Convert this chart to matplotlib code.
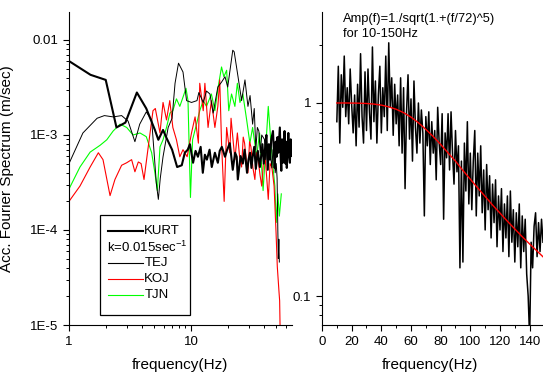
import matplotlib
matplotlib.use("Agg")
import matplotlib.pyplot as plt
from matplotlib.ticker import LogLocator, NullFormatter, MultipleLocator, FixedLocator
from matplotlib.patches import Rectangle

plt.rcParams['font.family'] = ['Liberation Sans', 'DejaVu Sans']

# ---------------- data: left panel (frequency Hz, spectrum m/sec) ----------------
kurt = [(1.0, 6.0e-3), (1.5, 4.3e-3), (2.0, 3.8e-3), (2.45, 1.2e-3), (2.9, 1.35e-3),
        (3.6, 2.8e-3), (4.3, 1.9e-3), (5.06, 1.13e-3), (5.4, 8.9e-4), (5.9, 1.13e-3),
        (6.3, 9.3e-4), (7.0, 7.0e-4), (7.7, 4.6e-4), (8.4, 4.8e-4), (8.9, 6.5e-4),
        (9.4, 7.0e-4), (9.8, 8.0e-4), (10.4, 5.1e-4), (10.9, 6.8e-4), (11.4, 5.9e-4),
        (12.0, 7.5e-4), (12.5, 4.0e-4), (13.0, 6.2e-4), (13.5, 5.5e-4), (14.2, 7.0e-4),
        (14.8, 4.6e-4), (15.7, 6.5e-4), (16.6, 5.1e-4), (17.2, 6.8e-4), (17.9, 7.5e-4),
        (19.0, 5.9e-4), (19.8, 7.0e-4), (20.8, 8.2e-4), (22.0, 4.3e-4), (23.0, 6.5e-4),
        (23.7, 5.9e-4), (24.2, 3.4e-4), (25.5, 6.0e-4), (26.6, 5.0e-4), (27.5, 7.0e-4),
        (28.8, 4.0e-4), (29.6, 5.5e-4), (30.5, 6.5e-4), (31.3, 4.5e-4), (32.0, 5.9e-4),
        (33.0, 7.5e-4), (34.0, 4.4e-4), (35.3, 6.8e-4), (36.7, 4.6e-4), (37.6, 6.0e-4),
        (38.5, 8.0e-4), (39.5, 5.0e-4), (40.4, 7.0e-4), (41.5, 1.0e-3), (42.6, 4.3e-4),
        (43.5, 8.0e-4), (44.5, 5.5e-4), (45.5, 9.0e-4), (47.0, 1.1e-3), (48.0, 6.0e-4),
        (48.5, 4.5e-4), (49.5, 8.5e-4), (50.4, 5.9e-4), (51.2, 9.5e-4), (52.0, 6.5e-4),
        (53.5, 1.2e-3), (54.3, 6.0e-4), (55.0, 4.2e-4), (55.8, 9.0e-4), (56.6, 5.1e-4),
        (57.5, 7.5e-4), (58.5, 1.1e-3), (59.5, 5.0e-4), (60.2, 8.5e-4), (61.0, 4.5e-4),
        (62.0, 7.0e-4), (62.8, 1.05e-3), (63.8, 6.0e-4), (64.7, 5.1e-4), (65.6, 9.0e-4),
        (66.5, 6.0e-4), (67.2, 8.0e-4)]

tej = [(1.0, 5.0e-4), (1.3, 1.05e-3), (1.7, 1.5e-3), (1.95, 1.6e-3), (2.3, 1.55e-3),
       (2.7, 1.6e-3), (3.05, 1.4e-3), (3.47, 8.5e-4), (3.8, 1.3e-3), (4.3, 1.75e-3),
       (4.76, 1.44e-3), (5.2, 3.1e-4), (5.4, 2.1e-4), (5.6, 3.5e-4), (5.9, 5.9e-4),
       (6.5, 1.2e-3), (7.0, 1.5e-3), (7.4, 3.5e-3), (7.9, 5.7e-3), (8.6, 4.6e-3),
       (9.2, 2.3e-3), (10.1, 2.2e-3), (11.2, 2.3e-3), (11.6, 2.8e-3), (12.6, 2.2e-3),
       (13.4, 2.9e-3), (14.3, 2.7e-3), (15.2, 1.7e-3), (16.6, 3.2e-3), (17.8, 3.6e-3),
       (19.0, 4.1e-3), (20.0, 3.2e-3), (22.0, 7.8e-3), (22.6, 7.5e-3), (24.3, 4.1e-3),
       (26.0, 2.3e-3), (27.7, 3.8e-3), (29.3, 2.0e-3), (30.5, 2.6e-3), (32.0, 1.3e-3),
       (33.0, 1.9e-3), (34.0, 7.0e-4), (35.0, 1.2e-3), (36.0, 1.1e-3), (37.0, 6.5e-4),
       (38.0, 1.0e-3), (40.0, 9.0e-4), (41.0, 5.5e-4), (42.0, 8.0e-4), (43.0, 5.0e-4),
       (44.0, 8.0e-4), (45.0, 6.0e-4), (46.0, 4.5e-4), (47.0, 7.0e-4), (48.0, 6.0e-4),
       (49.0, 4.0e-4), (50.0, 5.0e-4), (50.8, 3.5e-4), (51.5, 1.0e-4), (52.0, 5.0e-5),
       (52.5, 8.0e-5), (53.0, 4.6e-5)]

koj = [(1.0, 2.0e-4), (1.23, 2.9e-4), (1.49, 4.6e-4), (1.74, 6.5e-4), (1.9, 5.5e-4),
       (2.17, 2.3e-4), (2.38, 3.4e-4), (2.7, 4.8e-4), (2.97, 5.1e-4), (3.26, 5.5e-4),
       (3.47, 4.1e-4), (3.7, 5.2e-4), (3.9, 5.0e-4), (4.12, 3.4e-4), (4.45, 7.3e-4),
       (4.88, 1.8e-3), (5.1, 1.9e-3), (5.57, 1.05e-3), (5.9, 2.2e-3), (6.3, 1.44e-3),
       (6.7, 2.3e-3), (7.1, 1.2e-3), (7.6, 8.9e-4), (8.1, 5.9e-4), (8.6, 7.0e-4),
       (9.3, 5.9e-4), (10.1, 1.05e-3), (10.8, 1.55e-3), (11.5, 8.2e-4), (11.8, 3.5e-3),
       (12.6, 1.8e-3), (13.0, 3.5e-3), (13.8, 1.2e-3), (14.7, 2.3e-3), (15.7, 1.2e-3),
       (16.6, 2.0e-3), (17.2, 3.8e-3), (17.8, 8.2e-4), (18.7, 2.0e-4), (19.6, 1.2e-3),
       (20.8, 6.5e-4), (21.3, 1.5e-3), (22.1, 9.0e-4), (22.9, 5.5e-4), (24.0, 1.05e-3),
       (25.0, 6.0e-4), (26.0, 4.6e-4), (26.8, 9.5e-4), (27.5, 8.2e-4), (28.4, 5.5e-4),
       (29.3, 4.0e-4), (30.2, 8.5e-4), (31.0, 7.5e-4), (32.2, 4.5e-4), (33.4, 3.4e-4),
       (34.5, 6.5e-4), (35.5, 5.5e-4), (36.8, 3.8e-4), (38.0, 2.9e-4), (39.2, 5.0e-4),
       (40.5, 5.9e-4), (41.8, 3.5e-4), (43.0, 2.1e-4), (44.5, 5.0e-4), (46.0, 4.6e-4),
       (48.0, 2.9e-4), (49.8, 9.4e-5), (51.0, 4.1e-5), (52.7, 2.2e-5), (53.3, 1.8e-5),
       (53.7, 1.0e-5)]

tjn = [(1.0, 2.7e-4), (1.23, 4.6e-4), (1.49, 6.6e-4), (1.8, 7.8e-4), (2.04, 8.9e-4),
       (2.3, 1.1e-3), (2.62, 1.3e-3), (2.97, 1.2e-3), (3.35, 1.0e-3), (3.82, 1.05e-3),
       (4.3, 9.6e-4), (4.76, 6.5e-4), (5.06, 4.0e-4), (5.3, 2.6e-4), (5.57, 7.5e-4),
       (5.9, 8.9e-4), (6.3, 1.2e-3), (6.72, 1.7e-3), (7.1, 1.8e-3), (7.6, 2.4e-3),
       (8.1, 2.0e-3), (8.6, 2.5e-3), (9.1, 3.1e-3), (9.45, 2.3e-3), (9.9, 2.2e-4),
       (10.3, 8.9e-4), (11.1, 1.3e-3), (11.8, 1.8e-3), (12.6, 2.3e-3), (13.4, 2.0e-3),
       (14.7, 2.7e-3), (15.7, 1.8e-3), (16.7, 3.2e-3), (17.8, 5.2e-3), (18.6, 4.1e-3),
       (19.6, 4.8e-3), (20.4, 1.8e-3), (21.5, 2.7e-3), (22.9, 2.0e-3), (24.0, 3.5e-3),
       (25.2, 2.2e-3), (26.6, 2.7e-3), (28.6, 1.44e-3), (30.4, 8.2e-4), (32.0, 1.2e-3),
       (34.5, 5.9e-4), (36.5, 1.05e-3), (39.0, 2.6e-4), (41.0, 7.3e-4), (43.0, 2.0e-3),
       (45.0, 9.0e-4), (47.0, 4.6e-4), (48.7, 2.9e-4), (50.0, 1.2e-4), (51.5, 2.4e-4),
       (53.0, 1.4e-4), (55.0, 2.4e-4)]

# ---------------- data: right panel ----------------
ratio_freq = list(range(10, 150))
ratio_vals = [0.80, 1.55, 0.62, 1.40, 0.95, 1.75, 0.85, 1.20, 0.78, 1.50,
              0.98, 0.70, 1.10, 0.60, 1.25, 0.75, 1.80, 0.85, 0.62, 1.45,
              0.72, 1.50, 0.90, 0.65, 1.95, 0.80, 1.30, 0.62, 1.10, 1.55,
              0.70, 1.20, 0.85, 1.75, 0.72, 2.05, 0.95, 1.35, 0.68, 1.25,
              0.78, 1.10, 0.60, 1.35, 0.55, 1.20, 0.36, 0.90, 1.40, 0.65,
              1.05, 0.50, 1.30, 0.75, 0.55, 1.00, 0.62, 0.92, 0.70, 0.26,
              0.85, 0.60, 0.90, 0.48, 0.80, 0.55, 0.72, 0.40, 0.95, 0.62,
              0.48, 0.88, 0.25, 0.70, 0.52, 0.88, 0.45, 0.90, 0.55, 0.38,
              0.72, 0.44, 0.60, 0.14, 0.50, 0.15, 0.62, 0.35, 0.80, 0.30,
              0.55, 0.28, 0.50, 0.72, 0.26, 0.55, 0.33, 0.60, 0.27, 0.45,
              0.22, 0.48, 0.28, 0.42, 0.20, 0.38, 0.24, 0.40, 0.18, 0.33,
              0.22, 0.36, 0.17, 0.30, 0.20, 0.33, 0.16, 0.35, 0.19, 0.28,
              0.15, 0.27, 0.18, 0.30, 0.14, 0.26, 0.17, 0.25, 0.13, 0.10,
              0.06, 0.19, 0.14, 0.23, 0.27, 0.16, 0.24, 0.17, 0.25, 0.19]

fit_freq = [10, 15, 20, 25, 30, 35, 40, 45, 50, 55, 60, 65, 70, 75, 80, 85, 90,
            95, 100, 105, 110, 115, 120, 125, 130, 135, 140, 145, 150]
fit_vals = [1.0, 1.0, 0.999, 0.9975, 0.994, 0.987, 0.975, 0.955, 0.928, 0.891,
            0.845, 0.79, 0.73, 0.67, 0.61, 0.551, 0.50, 0.447, 0.403, 0.363,
            0.328, 0.296, 0.269, 0.244, 0.2225, 0.203, 0.186, 0.171, 0.157]

left_yticks = [1e-5, 1e-4, 1e-3, 1e-2]
left_yticklabels = ['1E-5', '1E-4', '1E-3', '0.01']
left_xticks = [1, 10]
left_xticklabels = ['1', '10']
right_yticks = [0.1, 1]
right_yticklabels = ['0.1', '1']

GREEN = '#00ff00'
RED = '#ff0000'

# ---------------- figure ----------------
W, H = 543, 373
fig = plt.figure(figsize=(W / 100, H / 100), dpi=100)
ax1 = fig.add_axes([69 / W, 48 / H, 223 / W, 313 / H])
ax2 = fig.add_axes([322 / W, 48 / H, 221 / W, 313 / H])


def split(pairs):
    return [p[0] for p in pairs], [p[1] for p in pairs]


for pairs, col, lw in [(tjn, GREEN, 0.8), (koj, RED, 0.8),
                       (tej, 'black', 0.7), (kurt, 'black', 1.5)]:
    f, v = split(pairs)
    ax1.plot(f, v, color=col, lw=lw)

ax1.set_xscale('log')
ax1.set_yscale('log')
ax1.set_xlim(1, 67.3)
ax1.set_ylim(1e-5, 0.0197)
ax1.set_yticks(left_yticks)
ax1.set_yticklabels(left_yticklabels)
ax1.set_xticks(left_xticks)
ax1.set_xticklabels(left_xticklabels)
ax1.xaxis.set_minor_locator(LogLocator(base=10, subs=range(2, 10)))
ax1.yaxis.set_minor_locator(LogLocator(base=10, subs=range(2, 10)))
ax1.xaxis.set_minor_formatter(NullFormatter())
ax1.yaxis.set_minor_formatter(NullFormatter())
ax1.set_xlabel('frequency(Hz)', fontsize=11)
ax1.set_ylabel('Acc. Fourier Spectrum (m/sec)', fontsize=11)
ax1.xaxis.set_label_coords(0.498, -0.105)
ax1.yaxis.set_label_coords(-0.245, 0.5)

# legend box (drawn manually)
ax1.add_patch(Rectangle((0.139, 0.032), 0.404, 0.319, transform=ax1.transAxes,
                        fill=False, lw=0.9, ec='black', zorder=5))
rows = [(0.300, 'KURT', 'black', 1.5), (0.198, 'TEJ', 'black', 0.8),
        (0.147, 'KOJ', RED, 0.8), (0.096, 'TJN', GREEN, 0.8)]
for y, lab, col, lw in rows:
    ax1.plot([0.175, 0.332], [y, y], transform=ax1.transAxes, color=col, lw=lw,
             zorder=6)
    ax1.text(0.338, y, lab, transform=ax1.transAxes, fontsize=9.5, va='center',
             ha='left', zorder=6)
ax1.text(0.172, 0.249, r'k=0.015sec$^{\mathregular{-1}}$', transform=ax1.transAxes,
         fontsize=9.5, va='center', ha='left', zorder=6)

# right panel
ax2.plot(ratio_freq, ratio_vals, color='black', lw=1.1)
ax2.plot(fit_freq, fit_vals, color=RED, lw=1.0)
ax2.set_yscale('log')
ax2.set_xlim(0, 149)
ax2.set_ylim(0.0708, 2.96)
ax2.set_yticks(right_yticks)
ax2.set_yticklabels(right_yticklabels)
ax2.yaxis.set_minor_locator(FixedLocator([0.08, 0.09, 0.2, 0.3, 0.4, 0.5, 0.6,
                                          0.7, 0.8, 0.9, 2, 3]))
ax2.yaxis.set_minor_formatter(NullFormatter())
ax2.xaxis.set_major_locator(MultipleLocator(20))
ax2.xaxis.set_minor_locator(MultipleLocator(10))
ax2.set_xlabel('frequency(Hz)', fontsize=11)
ax2.xaxis.set_label_coords(0.489, -0.105)
ax2.text(0.095, 0.978, 'Amp(f)=1./sqrt(1.+(f/72)^5)', transform=ax2.transAxes,
         fontsize=9.3, va='center', ha='left')
ax2.text(0.095, 0.93, 'for 10-150Hz', transform=ax2.transAxes,
         fontsize=9.3, va='center', ha='left')

for ax in (ax1, ax2):
    ax.spines['top'].set_visible(False)
    ax.spines['right'].set_visible(False)
    ax.tick_params(which='major', direction='out', length=4.3, width=0.8,
                   labelsize=9.5)
    ax.tick_params(which='minor', direction='out', length=2.2, width=0.7)

fig.savefig('out.png', dpi=100)
